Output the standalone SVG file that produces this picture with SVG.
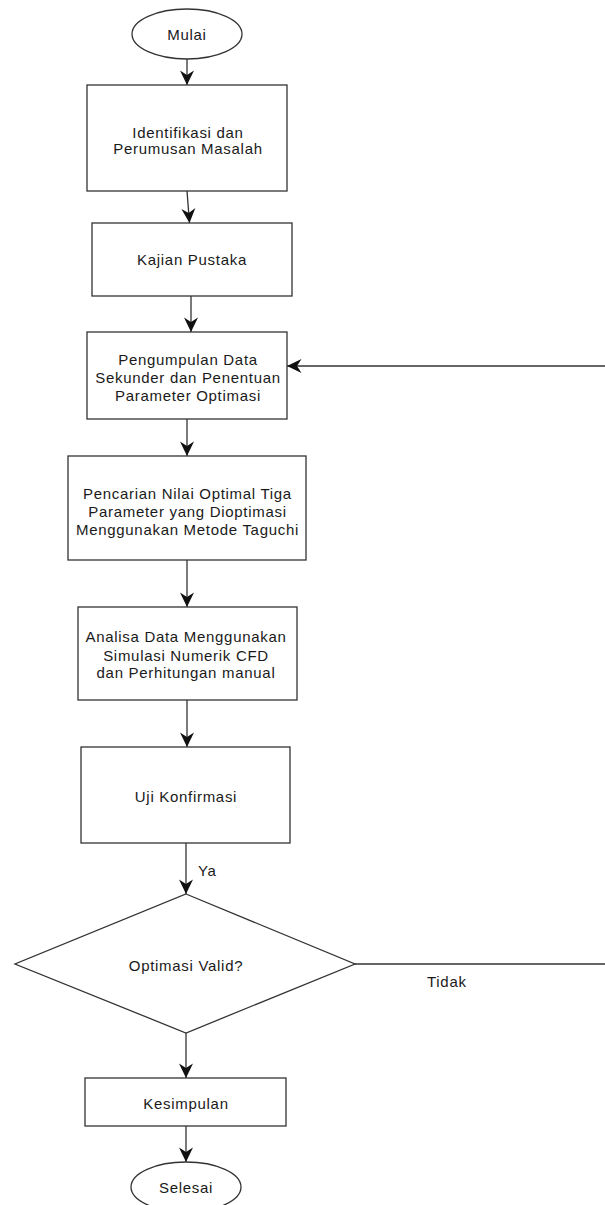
<svg xmlns="http://www.w3.org/2000/svg" width="605" height="1205" viewBox="0 0 605 1205">
<style>
.s{fill:#fff;stroke:#333;stroke-width:1.3}
.t{font-family:"Liberation Sans",Arial,sans-serif;font-size:15px;letter-spacing:0.7px;fill:#1a1a1a;text-anchor:middle}
.l{font-family:"Liberation Sans",Arial,sans-serif;font-size:15px;letter-spacing:0.7px;fill:#1a1a1a}
.c{fill:none;stroke:#333;stroke-width:1.3}
</style>
<defs>
<marker id="ah" markerWidth="18" markerHeight="18" viewBox="-16 -9 18 18" refX="0" refY="0" orient="auto" markerUnits="userSpaceOnUse">
<path d="M0,0 L-14.5,-7 L-10,0 L-14.5,7 Z" fill="#111"/>
</marker>
</defs>
<rect width="605" height="1205" fill="#fff"/>
<g id="connectors">
<line class="c" x1="187" y1="59" x2="187" y2="85" marker-end="url(#ah)"/>
<line class="c" x1="187" y1="191" x2="189.5" y2="223" marker-end="url(#ah)"/>
<line class="c" x1="191" y1="296" x2="191" y2="332" marker-end="url(#ah)"/>
<line class="c" x1="605" y1="366" x2="287" y2="366" marker-end="url(#ah)"/>
<line class="c" x1="187" y1="419" x2="187" y2="456" marker-end="url(#ah)"/>
<line class="c" x1="187" y1="560" x2="187" y2="607" marker-end="url(#ah)"/>
<line class="c" x1="187" y1="700" x2="187" y2="747" marker-end="url(#ah)"/>
<line class="c" x1="186" y1="843" x2="186" y2="894" marker-end="url(#ah)"/>
<line class="c" x1="355" y1="964" x2="605" y2="964"/>
<line class="c" x1="186" y1="1033" x2="186" y2="1078" marker-end="url(#ah)"/>
<line class="c" x1="186" y1="1126" x2="186" y2="1162" marker-end="url(#ah)"/>
<text class="l" x="198" y="875.5">Ya</text>
<text class="l" x="427" y="986.5">Tidak</text>
</g>
<g id="mulai">
<ellipse class="s" cx="187" cy="34" rx="55" ry="25"/>
<text class="t" x="187" y="40">Mulai</text>
</g>
<g id="identifikasi">
<rect class="s" x="87" y="85" width="200" height="106"/>
<text class="t" x="188" y="137.5">Identifikasi dan</text>
<text class="t" x="188" y="153.5">Perumusan Masalah</text>
</g>
<g id="kajian">
<rect class="s" x="92" y="223" width="200" height="73"/>
<text class="t" x="192" y="265">Kajian Pustaka</text>
</g>
<g id="pengumpulan">
<rect class="s" x="87" y="332" width="200" height="87"/>
<text class="t" x="188" y="364.5">Pengumpulan Data</text>
<text class="t" x="188" y="382.5">Sekunder dan Penentuan</text>
<text class="t" x="188" y="400.5">Parameter Optimasi</text>
</g>
<g id="pencarian">
<rect class="s" x="68" y="456" width="238" height="104"/>
<text class="t" x="187.5" y="498.5">Pencarian Nilai Optimal Tiga</text>
<text class="t" x="187.5" y="516.5">Parameter yang Dioptimasi</text>
<text class="t" x="187.5" y="534.5">Menggunakan Metode Taguchi</text>
</g>
<g id="analisa">
<rect class="s" x="78" y="607" width="219" height="93"/>
<text class="t" x="186" y="642">Analisa Data Menggunakan</text>
<text class="t" x="186" y="660.5">Simulasi Numerik CFD</text>
<text class="t" x="186" y="678">dan Perhitungan manual</text>
</g>
<g id="uji">
<rect class="s" x="81" y="747" width="209" height="96"/>
<text class="t" x="186" y="802">Uji Konfirmasi</text>
</g>
<g id="valid">
<polygon class="s" points="186,894 355,964 186,1033 15,964"/>
<text class="t" x="186" y="971">Optimasi Valid?</text>
</g>
<g id="kesimpulan">
<rect class="s" x="85" y="1078" width="201" height="48"/>
<text class="t" x="186" y="1108.5">Kesimpulan</text>
</g>
<g id="selesai">
<ellipse class="s" cx="186" cy="1187" rx="55" ry="25"/>
<text class="t" x="186" y="1192.5">Selesai</text>
</g>
</svg>
